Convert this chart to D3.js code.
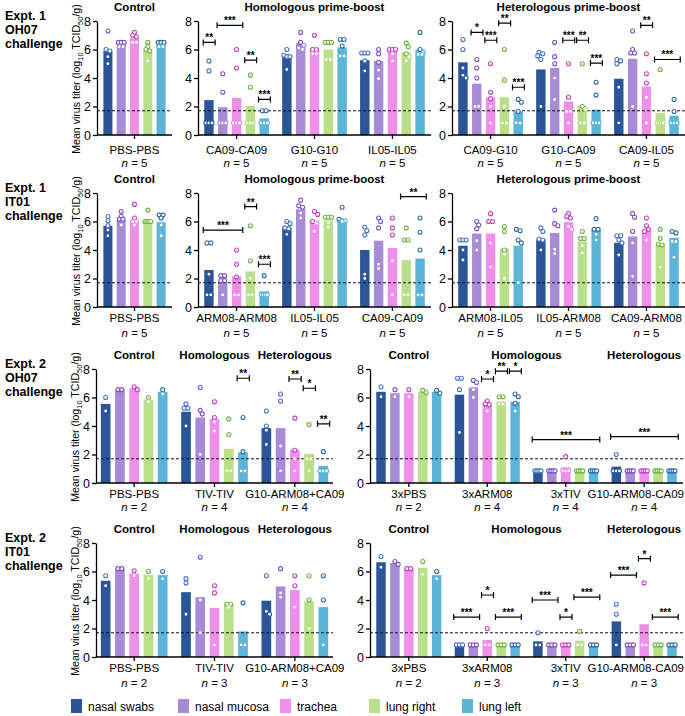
<!DOCTYPE html>
<html><head><meta charset="utf-8">
<script src="https://cdn.jsdelivr.net/npm/d3@7"></script>
<style>
body{margin:0;background:#fff}
svg{display:block}
text{font-family:"Liberation Sans",Arial,Helvetica,sans-serif;fill:#000}
</style>
</head><body>
<svg id="c" width="685" height="716"></svg>
<script>
// ---------------- DATA ----------------
const tissues = ["nasal swabs","nasal mucosa","trachea","lung right","lung left"];
const yTicks = [0,2,4,6,8];
const LOD = 1.7;
const rowLabels = [["Expt. 1","OH07","challenge"],["Expt. 1","IT01","challenge"],["Expt. 2","OH07","challenge"],["Expt. 2","IT01","challenge"]];

// Expt 1, OH07 challenge
const e1oCtrlGroups = ["PBS-PBS"], e1oCtrlN = [5];
const e1oCtrlMeans = [[5.9,6.45,6.8,5.9,6.45]];
const e1oCtrlPoints = [[[7.3,6.0,5.9,5.5,5.0],[6.5,6.5,6.5,6.2,6.2],[7.2,7.0,6.9,6.5,6.5],[6.5,6.2,6.0,5.9,5.2],[6.5,6.5,6.5,6.2,6.2]]];
const e1oCtrlSig = [];

const e1oHomoGroups = ["CA09-CA09","G10-G10","IL05-IL05"], e1oHomoN = [5,5,5];
const e1oHomoMeans = [[2.45,1.95,2.6,2.05,1.17],[5.55,6.45,6.1,6.0,6.15],[5.25,5.2,5.85,5.8,6.0]];
const e1oHomoPoints = [
  [[5.2,4.5,0.85,0.85,0.85],[4.3,3.0,0.85,0.85,0.85],[6.0,4.7,0.85,0.85,0.85],[4.2,3.35,0.85,0.85,0.85],[1.7,1.7,0.85,0.85,0.85]],
  [[6.0,5.6,5.5,5.5,4.6],[7.2,6.5,6.3,6.1,6.0],[7.0,6.0,6.0,5.7,5.7],[6.5,6.5,6.5,5.3,5.3],[6.7,6.7,6.25,5.55,5.55]],
  [[5.75,5.75,5.75,5.2,4.5],[6.0,5.7,5.1,4.55,3.95],[6.0,6.0,6.0,5.7,5.2],[6.45,6.2,5.7,5.5,5.2],[7.2,6.0,5.8,5.65,5.65]]];
const e1oHomoSig = [[0,0,0,6.5,"**"],[0,1,2,7.7,"***"],[0,3,3,5.25,"**"],[0,4,4,2.5,"***"]];

const e1oHeteGroups = ["CA09-G10","G10-CA09","CA09-IL05"], e1oHeteN = [5,5,5];
const e1oHeteMeans = [[5.1,3.6,2.65,2.65,1.65],[4.6,4.7,2.35,2.05,1.78],[3.95,5.35,3.4,1.55,1.35]];
const e1oHetePoints = [
  [[6.7,6.0,4.7,4.2,4.0],[5.3,4.7,4.0,2.0,2.0],[5.0,3.0,2.55,2.0,0.85],[6.0,3.85,2.0,0.85,0.85],[2.5,2.3,1.65,0.85,0.85]],
  [[5.8,5.7,5.55,5.3,2.0],[6.5,5.5,5.0,4.0,2.5],[5.0,2.65,1.65,1.65,0.85],[5.0,2.0,1.8,0.85,0.85],[3.7,2.8,0.85,0.85,0.85]],
  [[5.3,5.2,5.0,3.35,0.85],[7.3,6.0,5.75,5.75,2.0],[5.7,4.3,3.65,2.65,0.85],[4.6,0.85,0.85,0.85,0.85],[2.5,1.65,0.85,0.85,0.85]]];
const e1oHeteSig = [[0,1,1,7.2,"*"],[0,2,2,6.65,"***"],[0,3,3,7.85,"**"],[0,4,4,3.35,"***"],[1,2,2,6.65,"***"],[1,3,3,6.65,"**"],[1,4,4,5.05,"***"],[2,2,2,7.7,"**"],[2,3,4,5.3,"***"]];

// Expt 1, IT01 challenge
const e1iCtrlGroups = ["PBS-PBS"], e1iCtrlN = [5];
const e1iCtrlMeans = [[5.7,6.15,6.15,6.0,5.95]];
const e1iCtrlPoints = [[[6.35,6.05,5.7,5.4,5.0],[6.7,6.35,6.15,6.15,5.75],[7.2,6.25,6.0,6.0,5.75],[6.8,6.0,6.0,6.0,6.0],[6.45,6.45,6.25,5.75,5.0]]];
const e1iCtrlSig = [];

const e1iHomoGroups = ["ARM08-ARM08","IL05-IL05","CA09-CA09"], e1iHomoN = [5,5,5];
const e1iHomoMeans = [[2.6,1.8,2.15,2.5,1.1],[5.6,6.85,6.05,6.05,6.2],[4.0,4.65,4.15,3.3,3.4]];
const e1iHomoPoints = [
  [[4.5,4.5,2.3,0.85,0.85],[2.2,2.2,1.85,1.85,0.85],[4.0,3.0,2.1,0.85,0.85],[5.7,3.25,2.0,0.85,0.85],[2.2,0.85,0.85,0.85,0.85]],
  [[6.0,5.85,5.55,5.5,5.1],[7.5,7.1,7.0,6.6,6.25],[6.7,6.5,6.0,5.9,5.3],[6.3,6.3,6.3,5.9,5.6],[7.0,6.15,6.05,6.05,6.0]],
  [[5.6,5.35,5.05,2.3,2.0],[6.25,6.0,5.55,3.0,2.7],[6.25,5.55,5.05,3.25,0.85],[5.55,4.7,4.7,0.85,0.85],[6.25,5.25,4.0,0.85,0.85]]];
const e1iHomoSig = [[0,0,2,5.4,"***"],[0,3,3,7.05,"**"],[0,4,4,3.0,"***"],[2,3,4,7.75,"**"]];

const e1iHeteGroups = ["ARM08-IL05","IL05-ARM08","CA09-ARM08"], e1iHeteN = [5,5,5];
const e1iHeteMeans = [[4.3,5.15,5.15,4.1,4.3],[4.75,5.2,5.95,4.6,5.5],[4.5,4.95,5.35,4.4,4.85]];
const e1iHetePoints = [
  [[4.7,4.7,4.7,4.0,3.3],[6.0,5.75,5.5,4.65,4.0],[6.55,6.0,6.0,4.5,2.8],[5.65,5.3,4.0,3.7,2.0],[5.45,5.35,4.7,4.5,1.7]],
  [[5.55,5.3,4.75,4.7,4.0],[6.8,5.85,5.7,4.05,3.75],[6.55,6.35,6.25,5.65,5.45],[5.3,4.8,4.8,4.3,3.8],[6.2,5.45,5.45,5.1,4.7]],
  [[5.0,5.0,4.7,4.5,3.65],[6.55,6.3,5.3,4.5,2.15],[6.25,5.7,5.45,5.3,4.7],[5.45,4.8,4.4,4.35,2.8],[5.3,5.2,4.6,4.6,3.5]]];
const e1iHeteSig = [];

// Expt 2, OH07 challenge
const e2oLeftGroups = ["PBS-PBS","TIV-TIV","G10-ARM08+CA09"], e2oLeftN = [2,4,4];
const e2oLeftMeans = [[5.55,6.55,6.65,5.85,6.4],[5.0,4.6,4.5,2.4,2.15],[3.85,3.85,2.35,2.05,1.2]];
const e2oLeftPoints = [
  [[6.0,5.05],[6.55,6.55],[6.55,6.75],[6.0,5.7],[6.55,6.25]],
  [[5.55,5.25,5.25,4.0],[6.7,5.1,4.85,2.0],[5.7,4.6,4.3,3.65],[4.5,3.4,0.85,0.85],[4.6,2.2,0.85,0.85]],
  [[5.05,4.0,3.7,2.7],[6.25,5.75,2.6,0.85],[4.55,2.3,1.7,0.85],[4.1,1.7,1.7,0.85],[2.2,0.85,0.85,0.85]]];
const e2oLeftSig = [[1,4,4,7.35,"**"],[2,2,2,7.3,"**"],[2,3,3,6.65,"*"],[2,4,4,4.15,"**"]];

const e2oRightGroups = ["3xPBS","3xARM08","3xTIV","G10-ARM08-CA09"], e2oRightN = [2,4,4,4];
const e2oRightMeans = [[6.4,6.3,6.3,6.4,6.4],[6.2,6.7,5.5,5.7,5.7],[0.85,0.85,1.1,0.85,0.85],[1.15,0.85,0.85,0.85,0.85]];
const e2oRightPoints = [
  [[6.75,6.05],[6.55,6.05],[6.55,6.05],[6.35,6.5],[6.3,6.5]],
  [[7.35,7.35,6.55,3.55],[7.2,7.05,6.55,6.0],[5.75,5.55,5.5,5.05],[6.05,6.05,5.55,5.55],[6.25,6.05,5.6,5.05]],
  [[0.85,0.85,0.85,0.85],[0.85,0.85,0.85,0.85],[1.85,0.85,0.85,0.85],[0.85,0.85,0.85,0.85],[0.85,0.85,0.85,0.85]],
  [[2.0,0.85,0.85,0.85],[0.85,0.85,0.85,0.85],[0.85,0.85,0.85,0.85],[0.85,0.85,0.85,0.85],[0.85,0.85,0.85,0.85]]];
const e2oRightSig = [[1,2,2,7.3,"*"],[1,3,3,7.85,"**"],[1,4,4,7.85,"*"],[2,0,4,3.05,"***"],[3,0,4,3.25,"***"]];

// Expt 2, IT01 challenge
const e2iLeftGroups = ["PBS-PBS","TIV-TIV","G10-ARM08+CA09"], e2iLeftN = [2,3,3];
const e2iLeftMeans = [[5.35,6.2,5.85,5.75,5.75],[4.55,4.2,3.45,3.65,1.8],[3.95,4.95,4.7,3.9,3.5]];
const e2iLeftPoints = [
  [[5.7,5.0],[6.2,6.2],[6.05,5.7],[6.0,5.5],[6.0,5.5]],
  [[5.5,5.2,3.0],[7.0,4.0,1.7],[5.0,4.5,0.85],[3.7,3.7,3.5],[3.8,0.85,0.85]],
  [[5.7,3.2,3.0],[6.2,4.5,4.2],[5.7,5.0,3.5],[5.7,4.0,2.0],[5.7,4.0,0.85]]];
const e2iLeftSig = [];

const e2iRightGroups = ["3xPBS","3xARM08","3xTIV","G10-ARM08-CA09"], e2iRightN = [2,3,3,3];
const e2iRightMeans = [[6.65,6.6,6.2,6.25,5.75],[0.85,0.85,1.2,0.85,0.85],[1.1,0.85,0.85,1.15,0.85],[2.5,0.85,2.3,0.85,0.85]];
const e2iRightPoints = [
  [[7.05,6.3],[6.5,6.7],[6.2,6.2],[6.7,5.8],[6.0,5.5]],
  [[0.85,0.85,0.85],[0.85,0.85,0.85],[2.0,0.85,0.85],[0.85,0.85,0.85],[0.85,0.85,0.85]],
  [[1.7,0.85,0.85],[0.85,0.85,0.85],[0.85,0.85,0.85],[1.8,0.85,0.85],[0.85,0.85,0.85]],
  [[3.7,3.0,0.85],[0.85,0.85,0.85],[5.2,0.85,0.85],[0.85,0.85,0.85],[0.85,0.85,0.85]]];
const e2iRightSig = [[1,0,1,2.8,"***"],[1,2,2,4.35,"*"],[1,3,4,2.8,"***"],[2,0,1,4.0,"***"],[2,2,2,2.8,"*"],[2,3,4,4.2,"***"],[3,0,1,5.75,"***"],[3,2,2,6.9,"*"],[3,3,4,2.8,"***"]];

// ---------------- STYLE / LAYOUT ----------------
const barColors = ["#2b5597","#a88bd6","#ee90ea","#b9df8b","#5cb5d8"];
const pointColors = ["#4775c2","#7c50c9","#c43fc2","#6db43f","#2f6aa8"];
const FONT = 11.5;

const rows = [
  {yTop:21,  yBot:135, catOff:19, nOff:32},
  {yTop:193, yBot:307, catOff:15, nOff:30},
  {yTop:369, yBot:483, catOff:15, nOff:28},
  {yTop:543, yBot:657, catOff:15, nOff:30}
];

const panels = [
  {row:0,x0:97, x1:172,po:0.04,groups:e1oCtrlGroups,n:e1oCtrlN,means:e1oCtrlMeans,points:e1oCtrlPoints,sig:e1oCtrlSig,titles:[["Control",0,0]],yTitle:true},
  {row:0,x0:198,x1:431,po:0.08,groups:e1oHomoGroups,n:e1oHomoN,means:e1oHomoMeans,points:e1oHomoPoints,sig:e1oHomoSig,titles:[["Homologous prime-boost",0,2]]},
  {row:0,x0:452,x1:685,po:0.08,groups:e1oHeteGroups,n:e1oHeteN,means:e1oHeteMeans,points:e1oHetePoints,sig:e1oHeteSig,titles:[["Heterologous prime-boost",0,2]]},
  {row:1,x0:97, x1:172,po:0.04,groups:e1iCtrlGroups,n:e1iCtrlN,means:e1iCtrlMeans,points:e1iCtrlPoints,sig:e1iCtrlSig,titles:[["Control",0,0]],yTitle:true},
  {row:1,x0:198,x1:431,po:0.08,groups:e1iHomoGroups,n:e1iHomoN,means:e1iHomoMeans,points:e1iHomoPoints,sig:e1iHomoSig,titles:[["Homologous prime-boost",0,2]]},
  {row:1,x0:452,x1:685,po:0.08,groups:e1iHeteGroups,n:e1iHeteN,means:e1iHeteMeans,points:e1iHetePoints,sig:e1iHeteSig,titles:[["Heterologous prime-boost",0,2]]},
  {row:2,x0:96, x1:333,po:0.06,groups:e2oLeftGroups,n:e2oLeftN,means:e2oLeftMeans,points:e2oLeftPoints,sig:e2oLeftSig,titles:[["Control",0,0],["Homologous",1,1],["Heterologous",2,2]],yTitle:true},
  {row:2,x0:370,x1:683,po:0.08,groups:e2oRightGroups,n:e2oRightN,means:e2oRightMeans,points:e2oRightPoints,sig:e2oRightSig,titles:[["Control",0,0],["Homologous",1,2],["Heterologous",3,3]]},
  {row:3,x0:96, x1:333,po:0.06,groups:e2iLeftGroups,n:e2iLeftN,means:e2iLeftMeans,points:e2iLeftPoints,sig:e2iLeftSig,titles:[["Control",0,0],["Homologous",1,1],["Heterologous",2,2]],yTitle:true},
  {row:3,x0:370,x1:683,po:0.08,groups:e2iRightGroups,n:e2iRightN,means:e2iRightMeans,points:e2iRightPoints,sig:e2iRightSig,titles:[["Control",0,0],["Homologous",1,2],["Heterologous",3,3]]}
];

const svg = d3.select("#c");
const W = 685;

function spread(vals, y, maxHalf){
  const n = vals.length, off = new Array(n).fill(0);
  const idx = d3.range(n).sort((a,b)=>vals[b]-vals[a]);
  const grp = [];
  idx.forEach(i=>{
    const last = grp[grp.length-1];
    if(last && Math.abs(y(vals[last[0]])-y(vals[i]))<1.6) last.push(i); else grp.push([i]);
  });
  const placed = [];
  grp.forEach(r=>{
    const m = r.length;
    if(m>1){
      const d = Math.min(3.8, 2*maxHalf/(m-1));
      r.forEach((i,k)=>{ off[i]=(k-(m-1)/2)*d; placed.push({x:off[i],y:y(vals[i])}); });
    } else {
      const i=r[0], yy=y(vals[i]);
      const cand=[0,2,-2,3.2,-3.2];
      let best=0;
      for(const c of cand){
        if(placed.every(q=>Math.hypot(q.x-c,q.y-yy)>=3.6)){best=c;break;}
      }
      off[i]=best; placed.push({x:best,y:yy});
    }
  });
  return off;
}

function keepInside(sel){
  const node = sel.node();
  const bb = node.getBBox();
  if(bb.x+bb.width > W-1){
    sel.attr("x", +sel.attr("x") - (bb.x+bb.width-(W-1)));
  }
}

function drawPanel(p){
  const row = rows[p.row];
  const y = d3.scaleLinear().domain([0,8]).range([row.yBot,row.yTop]);
  const xg = d3.scaleBand().domain(p.groups).range([p.x0,p.x1]).paddingInner(0.17).paddingOuter(p.po);
  const xt = d3.scaleBand().domain(tissues).range([0,xg.bandwidth()]).paddingInner(0.32);
  const g = svg.append("g");

  // bars
  p.groups.forEach((grp,gi)=>{
    g.append("g").selectAll("rect").data(p.means[gi]).join("rect")
      .attr("x",(d,ti)=>xg(grp)+xt(tissues[ti]))
      .attr("width",xt.bandwidth())
      .attr("y",d=>y(d))
      .attr("height",d=>y(0)-y(d))
      .attr("fill",(d,ti)=>barColors[ti]);
  });

  // LOD dashed line
  g.append("line").attr("x1",p.x0).attr("x2",p.x1).attr("y1",y(LOD)).attr("y2",y(LOD))
    .attr("stroke","#111").attr("stroke-width",1).attr("stroke-dasharray","3,2");

  // points
  p.groups.forEach((grp,gi)=>{
    tissues.forEach((t,ti)=>{
      const vals = p.points[gi][ti];
      const cx = xg(grp)+xt(t)+xt.bandwidth()/2;
      const off = spread(vals,y,xt.bandwidth()/2-1.6);
      const mean = p.means[gi][ti];
      g.append("g").selectAll("circle").data(vals).join("circle")
        .attr("cx",(d,i)=>cx+off[i]).attr("cy",d=>y(d)).attr("r",2)
        .attr("fill","#fff").attr("stroke-width",1.1)
        .attr("stroke",d=> d < mean-0.12 ? barColors[ti] : pointColors[ti]);
    });
  });

  // significance brackets
  p.sig.forEach(([gi,a,b,v,lab])=>{
    const gx = xg(p.groups[gi]);
    const xa = gx+xt(tissues[a])-1, xb = gx+xt(tissues[b])+xt.bandwidth()+1.5;
    const yy = y(v);
    g.append("path").attr("d",`M${xa},${yy-3}V${yy+3}M${xa},${yy}H${xb}M${xb},${yy-3}V${yy+3}`)
      .attr("stroke","#000").attr("stroke-width",1.2).attr("fill","none");
    g.append("text").attr("x",(xa+xb)/2).attr("y",yy-1).attr("text-anchor","middle")
      .attr("font-size",10).attr("font-weight","bold").text(lab);
  });

  // y axis
  const ya = g.append("g").attr("transform",`translate(${p.x0},0)`)
    .call(d3.axisLeft(y).tickValues(yTicks).tickSize(4).tickPadding(2).tickSizeOuter(0));
  ya.select(".domain").attr("stroke","#000").attr("stroke-width",1.3);
  ya.selectAll(".tick line").attr("stroke","#000").attr("stroke-width",1.3);
  ya.selectAll(".tick text").attr("font-size",12.5).attr("font-family",'"Liberation Sans",Arial,sans-serif');

  // x axis
  const xa = g.append("g").attr("transform",`translate(0,${row.yBot})`)
    .call(d3.axisBottom(xg).tickSize(4).tickSizeOuter(0).tickFormat(""));
  xa.select(".domain").attr("d",`M${p.x0},0H${p.x1}`).attr("stroke","#000").attr("stroke-width",1.3);
  xa.selectAll(".tick line").attr("stroke","#000").attr("stroke-width",1.3);

  // category labels + n
  p.groups.forEach((grp,gi)=>{
    const cx = xg(grp)+xg.bandwidth()/2;
    const ct = g.append("text").attr("x",cx).attr("y",row.yBot+row.catOff).attr("text-anchor","middle")
      .attr("font-size",FONT).text(grp);
    keepInside(ct);
    const nt = g.append("text").attr("x",cx).attr("y",row.yBot+row.nOff).attr("text-anchor","middle")
      .attr("font-size",FONT);
    nt.append("tspan").attr("font-style","italic").text("n");
    nt.append("tspan").text(" = "+p.n[gi]);
  });

  // titles
  p.titles.forEach(([lab,a,b])=>{
    const cx = (xg(p.groups[a]) + xg(p.groups[b])+xg.bandwidth())/2;
    const tt = g.append("text").attr("x",cx).attr("y",row.yTop-10).attr("text-anchor","middle")
      .attr("font-size",11.5).attr("font-weight","bold").text(lab);
    keepInside(tt);
  });

  // y title
  if(p.yTitle){
    const t = g.append("text").attr("transform",`translate(${p.x0-17},${(row.yTop+row.yBot)/2+1}) rotate(-90)`)
      .attr("text-anchor","middle").attr("font-size",10.6);
    t.append("tspan").text("Mean virus titer (log");
    t.append("tspan").attr("font-size",7.5).attr("dy",3).text("10");
    t.append("tspan").attr("dy",-3).text(" TCID");
    t.append("tspan").attr("font-size",7.5).attr("dy",3).text("50");
    t.append("tspan").attr("dy",-3).text("/g)");
  }
}

panels.forEach(drawPanel);

// row labels
rows.forEach((r,i)=>{
  const t = svg.append("text").attr("x",5).attr("y",r.yTop-1).attr("font-size",12.5).attr("font-weight","bold");
  rowLabels[i].forEach((s,k)=>t.append("tspan").attr("x",5).attr("dy",k?14:0).text(s));
});

// legend
const legendX = [71,178,280,369,462];
const lg = svg.append("g");
tissues.forEach((t,i)=>{
  lg.append("rect").attr("x",legendX[i]).attr("y",699).attr("width",11).attr("height",14).attr("fill",barColors[i]);
  lg.append("text").attr("x",legendX[i]+17).attr("y",711).attr("font-size",12).text(t);
});
</script>
</body></html>
